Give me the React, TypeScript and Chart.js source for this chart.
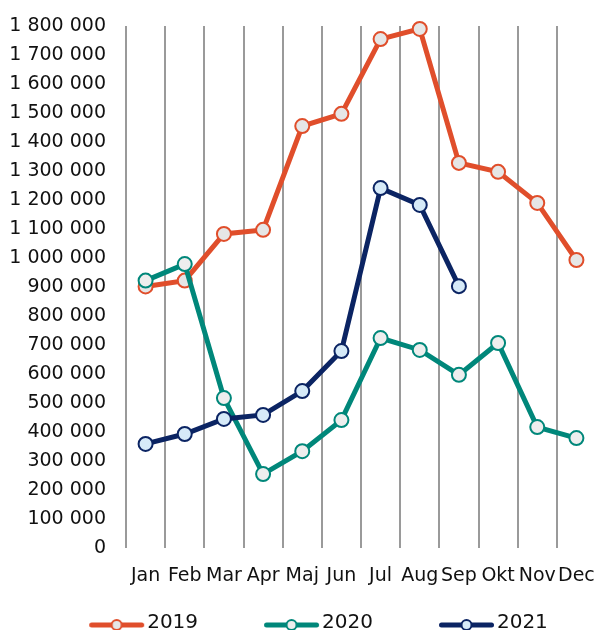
import React, { useEffect, useRef } from 'react';
import { Chart, registerables } from 'chart.js';

Chart.register(...registerables);

const months = ['Jan', 'Feb', 'Mar', 'Apr', 'Maj', 'Jun', 'Jul', 'Aug', 'Sep', 'Okt', 'Nov', 'Dec'];
const seriesLabels = ['2019', '2020', '2021'];
const values2019 = [902000, 922000, 1083000, 1097000, 1455000, 1497000, 1755000, 1790000, 1328000, 1297000, 1190000, 993000];
const values2020 = [922000, 979000, 517000, 255000, 334000, 441000, 724000, 683000, 597000, 707000, 417000, 379000];
const values2021 = [359000, 393000, 445000, 459000, 541000, 679000, 1241000, 1183000, 903000, null, null, null];
const yMin = 0;
const yMax = 1800000;
const yStep = 100000;

const lineColors = ['#E04E2B', '#00877A', '#0B2463'];
const pointFills = ['#E6E6E6', '#EEEEEE', '#D6EAF8'];

const FONT = "'DejaVu Sans', sans-serif";
const LEGEND_BOX = 89;
const ICON_W = LEGEND_BOX + 16;
const ICON_H = 20;

function makeLegendIcon(color: string, fill: string): HTMLCanvasElement {
  const c = document.createElement('canvas');
  c.width = ICON_W;
  c.height = ICON_H;
  const g = c.getContext('2d')!;
  const y = 12;
  const end = ICON_W - 1;
  const start = end - 55;
  g.strokeStyle = color;
  g.lineWidth = 5;
  g.lineCap = 'round';
  g.beginPath();
  g.moveTo(start + 2.5, y);
  g.lineTo(end - 2.5, y);
  g.stroke();
  g.beginPath();
  g.arc((start + end) / 2, y, 5, 0, Math.PI * 2);
  g.fillStyle = fill;
  g.fill();
  g.lineWidth = 2;
  g.stroke();
  return c;
}

function formatTick(v: number): string {
  return Math.round(v).toString().replace(/\B(?=(\d{3})+(?!\d))/g, ' ');
}

export default function App() {
  const ref = useRef<HTMLCanvasElement>(null);

  useEffect(() => {
    if (!ref.current) return;
    const allValues = [values2019, values2020, values2021];
    const icons = lineColors.map((c, i) => makeLegendIcon(c, pointFills[i]));
    const datasets = allValues.map((data, i) => ({
      label: seriesLabels[i],
      data,
      borderColor: lineColors[i],
      backgroundColor: lineColors[i],
      borderWidth: 5,
      tension: 0,
      pointRadius: 7,
      pointHoverRadius: 7,
      pointBorderWidth: 2,
      pointBackgroundColor: pointFills[i],
      pointBorderColor: lineColors[i],
      order: 2 - i,
      spanGaps: false,
      clip: false as any,
    }));

    const chart = new Chart(ref.current, {
      type: 'line',
      data: { labels: months, datasets },
      options: {
        responsive: false,
        animation: false,
        layout: { autoPadding: false, padding: { top: 26, left: 0, right: 0, bottom: 0 } },
        plugins: {
          tooltip: { enabled: false },
          legend: {
            position: 'bottom',
            labels: {
              usePointStyle: true,
              pointStyleWidth: LEGEND_BOX,
              boxHeight: 20,
              padding: 25,
              color: '#111',
              font: { family: FONT, size: 20 },
              generateLabels: (ch: any) =>
                ch.data.datasets.map((ds: any, i: number) => ({
                  text: ds.label,
                  pointStyle: icons[i],
                  fillStyle: ds.borderColor,
                  strokeStyle: ds.borderColor,
                  lineWidth: 0,
                  hidden: false,
                  datasetIndex: i,
                  fontColor: '#111',
                })),
            },
          },
        },
        scales: {
          x: {
            offset: true,
            grid: { display: true, offset: true, drawTicks: false, lineWidth: 2,
              color: (ctx: any) => (ctx.type === 'tick' ? '#9A9A9A' : 'rgba(0,0,0,0)') },
            border: { display: false },
            ticks: { color: '#111', font: { family: FONT, size: 19 }, padding: 17, maxRotation: 0, autoSkip: false },
            afterFit: (s: any) => { s.height = 40; s.paddingLeft = 0; s.paddingRight = 0; },
          },
          y: {
            min: yMin,
            max: yMax,
            grid: { display: false, drawTicks: false },
            border: { display: false },
            ticks: { stepSize: yStep, color: '#111', font: { family: FONT, size: 19 }, padding: 20,
              callback: (v: any) => formatTick(Number(v)) },
            afterFit: (s: any) => { s.width = 126; s.paddingTop = 0; s.paddingBottom = 0; },
          },
        },
      },
    });
    return () => chart.destroy();
  }, []);

  return (
    <div style={{ position: 'absolute', left: 0, top: 0, width: 596, height: 630, overflow: 'hidden', background: '#fff' }}>
      <canvas ref={ref} width={596} height={643} style={{ display: 'block' }} />
    </div>
  );
}
